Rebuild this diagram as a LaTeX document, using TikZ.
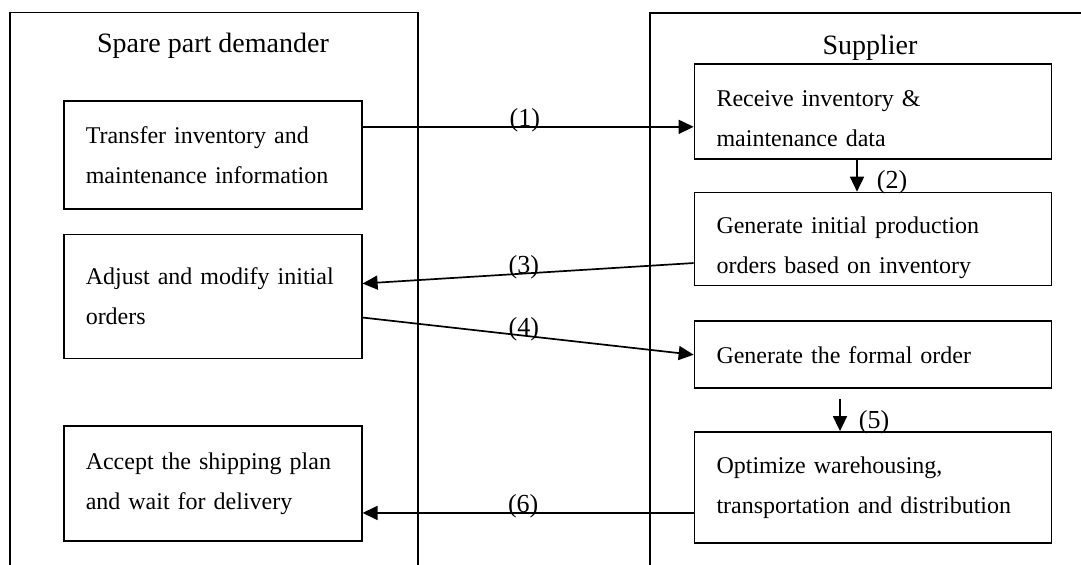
\documentclass[tikz,border=0pt]{standalone}
\usepackage{fontspec}
\setmainfont{Liberation Serif}
\usetikzlibrary{positioning,arrows.meta}

\begin{document}
\begin{tikzpicture}[x=0.5pt, y=-0.5pt,
frame/.style={line width=0.85pt},
stepbox/.style={draw, rectangle, line width=0.85pt, align=left, inner xsep=11pt, inner ysep=0pt, font=\fontsize{12}{20}\selectfont},
leftbox/.style={stepbox, text width=127pt},
rightbox/.style={stepbox, text width=156.5pt},
lowtext/.style={execute at begin node={\rule{0pt}{#1}}},
flow/.style={->, >={Triangle[length=7.5pt, width=7pt]}, line width=0.85pt},
steplabel/.style={inner sep=0pt, anchor=base, font=\fontsize{13}{15}\selectfont},
sidetitle/.style={anchor=base, font=\fontsize{14}{17}\selectfont}
]
    \useasboundingbox (0,0) rectangle (1081,565);

    %Frames
    \draw[frame] (10,565) -- (10,12.5) -- (418,12.5) -- (418,565);
    \draw[frame] (650,565) -- (650,13) -- (1081,13);
    \node[sidetitle] (demander) at (213,53) {Spare part demander};
    \node[sidetitle] (supplier) at (870,55) {Supplier};

    %Nodes
    \node[leftbox, minimum height=54pt, anchor=north]
        (transfer)  at (212.75,100)     {Transfer inventory and\\maintenance information};
    \node[leftbox, minimum height=62pt]
        (adjust)    [below=12pt of transfer]  {Adjust and modify initial\\orders};
    \node[leftbox, minimum height=57.5pt]
        (accept)    [below=33pt of adjust]    {Accept the shipping plan\\and wait for delivery};

    \node[rightbox, minimum height=47.5pt, anchor=north, lowtext=15pt]
        (receive)   at (873,63)         {Receive inventory \&\\maintenance data};
    \node[rightbox, minimum height=46.5pt, lowtext=17pt]
        (initial)   [below=16pt of receive]   {Generate initial production\\orders based on inventory};
    \node[rightbox, minimum height=33.5pt]
        (formal)    [below=17pt of initial]   {Generate the formal order};
    \node[rightbox, minimum height=55.5pt]
        (optimize)  [below=21pt of formal]    {Optimize warehousing,\\transportation and distribution};

    %Lines
    \coordinate (p1) at ([yshift=14pt]transfer.east);
    \draw[flow] (p1) -- node[steplabel, pos=0.49] {(1)} (p1 -| receive.west);
    \coordinate (p2) at ([xshift=-8pt]receive.south);
    \draw[flow] (p2) -- (p2 |- initial.north)
        node[steplabel, anchor=base west, xshift=9.5pt, yshift=1.5pt] {(2)};
    \draw[flow] ([yshift=-12pt]initial.west) -- node[steplabel, pos=0.513] {(3)} ([yshift=6.5pt]adjust.east);
    \draw[flow] ([yshift=-10.5pt]adjust.east) -- node[steplabel, pos=0.487] {(4)} (formal.west);
    \coordinate (p5) at ([xshift=-16.5pt, yshift=-5pt]formal.south);
    \draw[flow] (p5) -- (p5 |- optimize.north)
        node[steplabel, anchor=base west, xshift=9pt, yshift=1.5pt] {(5)};
    \coordinate (p6) at ([yshift=-12.75pt]optimize.west);
    \draw[flow] (p6) -- node[steplabel, pos=0.515] {(6)} (p6 -| accept.east);
\end{tikzpicture}
\end{document}
